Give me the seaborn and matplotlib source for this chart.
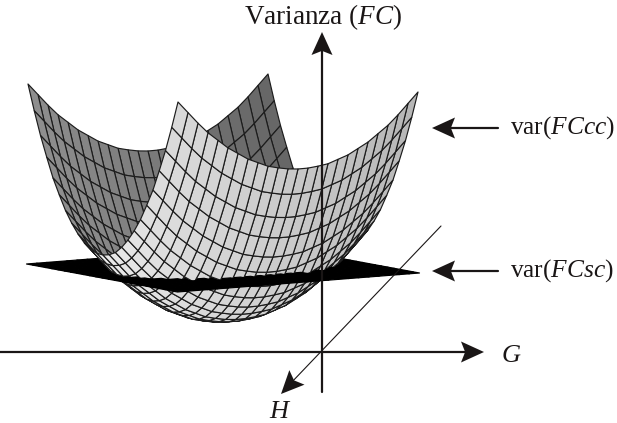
import numpy as np
import pandas as pd
import seaborn as sns
import matplotlib
matplotlib.use("Agg")
import matplotlib.pyplot as plt
from matplotlib.collections import PolyCollection
from matplotlib.patches import Polygon

# Bowl heights (pixels above the bowl bottom) read along the H and G directions
height_along_h = [162, 136, 112, 91, 71, 55, 40, 28, 18, 10, 4, 1, 0,
                  1, 4, 10, 18, 28, 40, 55, 71, 91, 112, 136, 162]
height_along_g = [72, 61, 50, 40, 32, 24, 18, 12, 8, 4, 2, 0.5, 0,
                  0.5, 2, 4, 8, 12, 18, 24, 32, 40, 50, 61, 72]
plane_height = 54

labels = {"z": "Varianza ($FC$)", "cc": "var($FCcc$)", "sc": "var($FCsc$)", "g": "$G$", "h": "$H$"}
axis_v_x = [322, 322]
axis_v_y = [392, 40]
axis_g_x = [0, 470]
axis_g_y = [352, 352]
axis_h_x = [441, 290]
axis_h_y = [226, 384]

sns.set_theme(style="white")
plt.rcParams["font.family"] = ["Liberation Serif", "DejaVu Serif"]
plt.rcParams["mathtext.fontset"] = "custom"
plt.rcParams["mathtext.rm"] = "Liberation Serif"
plt.rcParams["mathtext.it"] = "Liberation Serif:italic"

fig, ax = plt.subplots(figsize=(6.17, 4.23), dpi=100)
ax.set_position([0, 0, 1, 1])
ax.set_xlim(0, 617)
ax.set_ylim(423, 0)
ax.axis("off")

u = np.linspace(-1, 1, len(height_along_h))
v = np.linspace(-1, 1, len(height_along_g))
U, V = np.meshgrid(u, v, indexing="ij")
Z = np.add.outer(height_along_h, height_along_g)


def bowl_xy(U, V, Z):
    return 223 + 75 * U + 120 * V, 322 + 9 * U - 5 * V - Z


def plane_xy(U, V):
    return 223 + 75.5 * U + 121 * V, 268.5 + 14 * U - 9.5 * V


bx, by = bowl_xy(U, V, Z)
px, py = plane_xy(U, V)
cells = []
for i in range(len(u) - 1):
    for j in range(len(v) - 1):
        idx = [(i, j), (i + 1, j), (i + 1, j + 1), (i, j + 1)]
        quad = np.array([[bx[k], by[k]] for k in idx])
        x, y = quad[:, 0], quad[:, 1]
        area = 0.5 * np.sum(x * np.roll(y, -1) - np.roll(x, -1) * y)
        uc, vc = (u[i] + u[i + 1]) / 2, (v[j] + v[j + 1]) / 2
        zc = np.mean([Z[k] for k in idx])
        key = uc - 0.625 * vc
        if area > 0:
            shade = 0.85 - 0.07 * vc - 0.07 * uc
            cells.append((key, zc, quad, str(np.clip(shade, 0, 1)), "#1c1c1c"))
        else:
            shade = 0.48 - 0.08 * vc
            cells.append((key, zc, quad, str(shade), "#1c1c1c"))
        pquad = np.array([[px[k], py[k]] for k in idx])
        cells.append((key, plane_height, pquad, "black", "black"))
cells.sort(key=lambda c: (c[0], c[1]))
ax.add_collection(PolyCollection([c[2] for c in cells],
                                 facecolors=[c[3] for c in cells],
                                 edgecolors=[c[4] for c in cells],
                                 linewidths=0.85))

ink = "#1a1616"
sns.lineplot(data=pd.DataFrame({"x": axis_v_x, "y": axis_v_y}), x="x", y="y", ax=ax,
             color=ink, lw=1.6, sort=False, estimator=None)
sns.lineplot(data=pd.DataFrame({"x": axis_g_x, "y": axis_g_y}), x="x", y="y", ax=ax,
             color=ink, lw=1.6, sort=False, estimator=None)
sns.lineplot(data=pd.DataFrame({"x": axis_h_x, "y": axis_h_y}), x="x", y="y", ax=ax,
             color=ink, lw=0.8, sort=False, estimator=None)


def arrow_head(tip, direction, length=23, half=10.5):
    d = np.array(direction, float)
    d /= np.hypot(*d)
    n = np.array([-d[1], d[0]])
    t = np.array(tip, float)
    pts = [t, t - length * d + half * n, t - 0.82 * length * d, t - length * d - half * n]
    ax.add_patch(Polygon(pts, closed=True, fc=ink, ec="none", zorder=5))


arrow_head((322, 32), (0, -1))
arrow_head((484, 352), (1, 0))
arrow_head((281, 394), (-0.69, 0.72))
for yy in (128, 271):
    sns.lineplot(data=pd.DataFrame({"x": [498, 445], "y": [yy, yy]}), x="x", y="y", ax=ax,
                 color=ink, lw=1.6, sort=False, estimator=None)
    arrow_head((432, yy), (-1, 0))

ax.set_xlim(0, 617)
ax.set_ylim(423, 0)
ax.set_xlabel("")
ax.set_ylabel("")
ax.text(244, 24, labels["z"], fontsize=19.5, color=ink, ha="left", va="baseline")
ax.text(510, 134, labels["cc"], fontsize=18.3, color=ink, ha="left", va="baseline")
ax.text(510, 277, labels["sc"], fontsize=18.3, color=ink, ha="left", va="baseline")
ax.text(501, 362, labels["g"], fontsize=19, color=ink, ha="left", va="baseline")
ax.text(269, 418, labels["h"], fontsize=19, color=ink, ha="left", va="baseline")
sns.despine(ax=ax, left=True, bottom=True)
fig.savefig("out.png", dpi=100)
